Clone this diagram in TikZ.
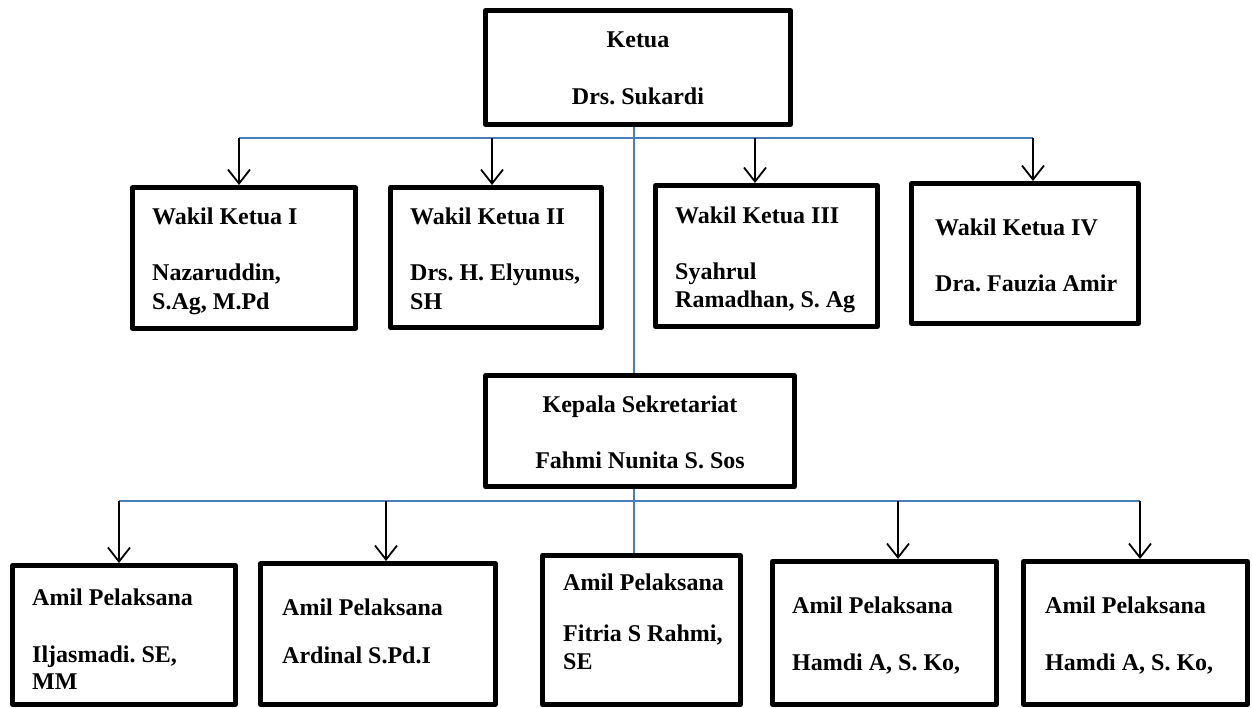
\documentclass[tikz,border=0pt]{standalone}
\usepackage{fontspec}
\setmainfont{Liberation Serif}
\usetikzlibrary{arrows.meta}
\definecolor{linkblue}{RGB}{74,126,187}
\frenchspacing
\begin{document}
\begin{tikzpicture}[x=1pt,y=-1pt,
  box/.style={draw=black,line width=5pt,line join=round,rectangle,inner sep=0pt,fill=white},
  txt/.style={inner sep=0pt,anchor=base west,font=\fontsize{24}{29}\selectfont\bfseries\frenchspacing},
  ctxt/.style={inner sep=0pt,anchor=base,font=\fontsize{24}{29}\selectfont\bfseries\frenchspacing},
  blueline/.style={draw=linkblue,line width=1.6pt},
  arr/.style={draw=black,line width=1.8pt,-{Straight Barb[length=14pt,width=22pt]}}]
\useasboundingbox (0,0) rectangle (1252,708);
\fill[white] (0,0) rectangle (1252,708);

% boxes
\node[box,minimum width=305pt,minimum height=114pt] (t) at (638,67.5) {};
\node[box,minimum width=223pt,minimum height=141pt] (w1) at (244,258) {};
\node[box,minimum width=211pt,minimum height=140pt] (w2) at (496,257.5) {};
\node[box,minimum width=222pt,minimum height=141pt] (w3) at (766.5,256) {};
\node[box,minimum width=227pt,minimum height=140pt] (w4) at (1025,253.5) {};
\node[box,minimum width=309pt,minimum height=111pt] (k) at (640,431) {};
\node[box,minimum width=223pt,minimum height=139pt] (b1) at (124,635) {};
\node[box,minimum width=235pt,minimum height=141pt] (b2) at (378,634) {};
\node[box,minimum width=198pt,minimum height=149pt] (b3) at (641.5,630) {};
\node[box,minimum width=224pt,minimum height=143pt] (b4) at (884.5,633) {};
\node[box,minimum width=224pt,minimum height=143pt] (b5) at (1135.5,633) {};

% connector coordinates
\coordinate (s1) at (634,138);
\coordinate (a1) at (239,138);
\coordinate (a2) at (492,138);
\coordinate (a3) at (755,138);
\coordinate (a4) at (1033,138);
\coordinate (s2) at (634,501);
\coordinate (c1) at (119,501);
\coordinate (c2) at (386,501);
\coordinate (c4) at (898,501);
\coordinate (c5) at (1140,501);

% blue lines
\draw[blueline] (s1 |- t.south) -- (s1 |- k.north);
\draw[blueline] (a1) -- (a4);
\draw[blueline] (s2 |- k.south) -- (s2 |- b3.north);
\draw[blueline] (c1) -- (c5);

% arrows
\draw[arr] (a1) -- (a1 |- w1.north);
\draw[arr] (a2) -- (a2 |- w2.north);
\draw[arr] (a3) -- (a3 |- w3.north);
\draw[arr] (a4) -- (a4 |- w4.north);
\draw[arr] (c1) -- (c1 |- b1.north);
\draw[arr] (c2) -- (c2 |- b2.north);
\draw[arr] (c4) -- (c4 |- b4.north);
\draw[arr] (c5) -- (c5 |- b5.north);

% texts
\node[ctxt] (tt1) at (638,48) {Ketua};
\node[ctxt] (tt2) at (638,105) {Drs. Sukardi};

\node[txt] (w1a) at (152,225) {Wakil Ketua I};
\node[txt] (w1b) at (152,281) {Nazaruddin,};
\node[txt] (w1c) at (152,309) {S.Ag, M.Pd};

\node[txt] (w2a) at (410,225) {Wakil Ketua II};
\node[txt] (w2b) at (410,281) {Drs. H. Elyunus,};
\node[txt] (w2c) at (410,309) {SH};

\node[txt] (w3a) at (675,224) {Wakil Ketua III};
\node[txt] (w3b) at (675,280) {Syahrul};
\node[txt] (w3c) at (675,308) {Ramadhan, S. Ag};

\node[txt] (w4a) at (935,236) {Wakil Ketua IV};
\node[txt] (w4b) at (935,292) {Dra. Fauzia Amir};

\node[ctxt] (ka) at (640,412) {Kepala Sekretariat};
\node[ctxt] (kb) at (640,468) {Fahmi Nunita S. Sos};

\node[txt] (b1a) at (32,605) {Amil Pelaksana};
\node[txt] (b1b) at (32,662) {Iljasmadi. SE,};
\node[txt] (b1c) at (32,689) {MM};

\node[txt] (b2a) at (282,615) {Amil Pelaksana};
\node[txt] (b2b) at (282,663) {Ardinal S.Pd.I};

\node[txt] (b3a) at (563,590) {Amil Pelaksana};
\node[txt] (b3b) at (563,641) {Fitria S Rahmi,};
\node[txt] (b3c) at (563,669) {SE};

\node[txt] (b4a) at (792,613) {Amil Pelaksana};
\node[txt] (b4b) at (792,670) {Hamdi A, S. Ko,};

\node[txt] (b5a) at (1045,613) {Amil Pelaksana};
\node[txt] (b5b) at (1045,670) {Hamdi A, S. Ko,};
\end{tikzpicture}
\end{document}
